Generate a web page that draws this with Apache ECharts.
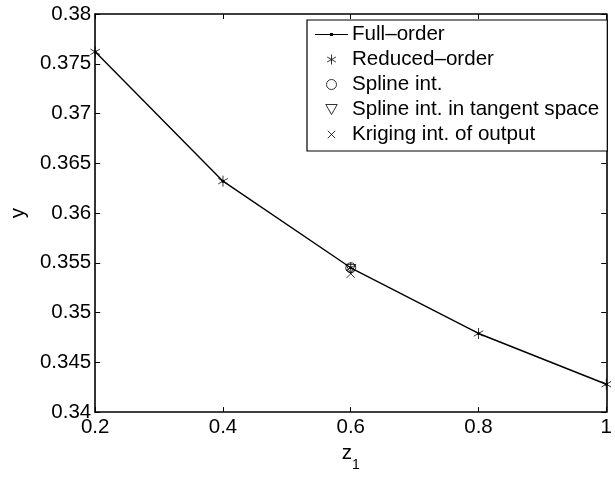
<!DOCTYPE html>
<html>
<head>
<meta charset="utf-8">
<script src="https://cdn.jsdelivr.net/npm/echarts@6/dist/echarts.min.js"></script>
<style>
html,body{margin:0;padding:0;background:#fff;}
#chart{width:615px;height:477px;}
</style>
</head>
<body>
<div id="chart"></div>
<script>
// ---- data ----
var zValues = [0.2, 0.4, 0.6, 0.8, 1.0];
var fullOrder = [0.3762, 0.3632, 0.3545, 0.3479, 0.3428];
var reducedOrder = [0.3762, 0.3632, 0.3545, 0.3479, 0.3428];
var splineZ = [0.6];
var splineInt = [0.3545];
var tangentZ = [0.6];
var tangentInt = [0.3544];
var krigingZ = [0.6];
var krigingInt = [0.3539];
var seriesNames = ['Full\u2013order', 'Reduced\u2013order', 'Spline int.', 'Spline int. in tangent space', 'Kriging int. of output'];
var xTicks = {min: 0.2, max: 1, step: 0.2};
var yTicks = {min: 0.34, max: 0.38, step: 0.005};

function pairs(xs, ys) { return xs.map(function (x, i) { return [x, ys[i]]; }); }

var FONT = 'Liberation Sans, Arial, Helvetica, sans-serif';
var starPath = 'path://M0,-1L0,1M-0.866,-0.5L0.866,0.5M-0.866,0.5L0.866,-0.5';
var triPath = 'path://M-1,-0.85L1,-0.85L0,0.9Z';
var crossPath = 'path://M-1,-1L1,1M-1,1L1,-1';
var crossIcon = 'path://M-1.35,-1.35M1.35,1.35M-1,-1L1,1M-1,1L1,-1';
var fullIcon = 'path://M0,4.4h33v1.2h-33zM15,3.5h3v3h-3z';

var stroke = {color: 'none', borderColor: '#000', borderWidth: 1};

var axisCommon = {
  type: 'value',
  axisLine: {show: true, lineStyle: {color: '#000', width: 1.6}},
  axisTick: {show: true, inside: true, length: 5, lineStyle: {color: '#000', width: 1}},
  splitLine: {show: false},
  axisLabel: {color: '#000', fontFamily: FONT, fontSize: 20.5}
};

var chart = echarts.init(document.getElementById('chart'), null, {renderer: 'canvas'});
chart.setOption({
  animation: false,
  backgroundColor: '#fff',
  grid: {left: 94, right: 1, top: 14, bottom: 53, containLabel: false},
  xAxis: [
    Object.assign({}, axisCommon, {
      position: 'bottom', min: xTicks.min, max: xTicks.max, interval: xTicks.step,
      axisLabel: Object.assign({}, axisCommon.axisLabel, {margin: 5, showMinLabel: true, showMaxLabel: true}),
      name: '{z|z}{s|1}', nameLocation: 'middle', nameGap: 20,
      nameTextStyle: {
        rich: {
          z: {fontSize: 20.5, fontFamily: FONT, color: '#000', lineHeight: 20, verticalAlign: 'top'},
          s: {fontSize: 14, fontFamily: FONT, color: '#000', lineHeight: 29, verticalAlign: 'bottom'}
        }
      }
    }),
    Object.assign({}, axisCommon, {
      position: 'top', min: xTicks.min, max: xTicks.max, interval: xTicks.step,
      axisLabel: {show: false}
    })
  ],
  yAxis: [
    Object.assign({}, axisCommon, {
      position: 'left', min: yTicks.min, max: yTicks.max, interval: yTicks.step,
      axisLabel: Object.assign({}, axisCommon.axisLabel, {margin: 4, showMinLabel: true, showMaxLabel: true}),
      name: 'y', nameLocation: 'middle', nameGap: 61, nameRotate: 90,
      nameTextStyle: {fontSize: 20.5, fontFamily: FONT, color: '#000'}
    }),
    Object.assign({}, axisCommon, {
      position: 'right', min: yTicks.min, max: yTicks.max, interval: yTicks.step,
      axisLabel: {show: false}
    })
  ],
  legend: {
    orient: 'vertical',
    left: 307, top: 20,
    padding: [4, 8, 6, 8],
    itemWidth: 33, itemHeight: 10, itemGap: 4,
    borderColor: '#000', borderWidth: 1.2,
    backgroundColor: '#fff',
    selectedMode: false,
    textStyle: {fontSize: 20.6, lineHeight: 20, fontFamily: FONT, color: '#000', padding: [0, 0, 0, -1]},
    data: [
      {name: seriesNames[0], icon: fullIcon, itemStyle: {color: '#000', borderWidth: 0}},
      {name: seriesNames[1], icon: starPath, itemStyle: stroke},
      {name: seriesNames[2], icon: 'circle', itemStyle: stroke},
      {name: seriesNames[3], icon: triPath, itemStyle: stroke},
      {name: seriesNames[4], icon: crossIcon, itemStyle: stroke}
    ]
  },
  series: [
    {
      name: seriesNames[0], type: 'line', data: pairs(zValues, fullOrder),
      symbol: 'circle', symbolSize: 3, showSymbol: true,
      lineStyle: {color: '#000', width: 1.4},
      itemStyle: {color: '#000'}, z: 2
    },
    {
      name: seriesNames[1], type: 'scatter', data: pairs(zValues, reducedOrder),
      symbol: starPath, symbolSize: 11, symbolKeepAspect: true, itemStyle: stroke, z: 3
    },
    {
      name: seriesNames[2], type: 'scatter', data: pairs(splineZ, splineInt),
      symbol: 'circle', symbolSize: 10, itemStyle: stroke, z: 3
    },
    {
      name: seriesNames[3], type: 'scatter', data: pairs(tangentZ, tangentInt),
      symbol: triPath, symbolSize: 10, symbolKeepAspect: true, itemStyle: stroke, z: 3
    },
    {
      name: seriesNames[4], type: 'scatter', data: pairs(krigingZ, krigingInt),
      symbol: crossPath, symbolSize: 8, symbolKeepAspect: true, itemStyle: stroke, z: 3
    }
  ]
});
</script>
</body>
</html>
